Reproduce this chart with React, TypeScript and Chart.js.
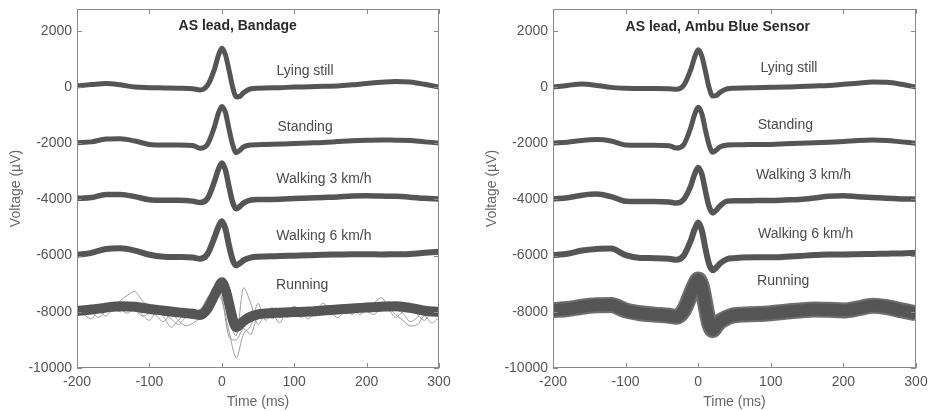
import React, { useEffect, useRef } from "react";
import { Chart, registerables } from "chart.js";

Chart.register(...registerables);

// ---- data ----
const times = [-200, -180, -160, -140, -120, -100, -80, -60, -40, -30, -20, -10, -5, 0, 5, 10, 15, 20, 25, 30, 40, 50, 60, 80, 100, 120, 140, 160, 180, 200, 220, 240, 260, 280, 300];

const bandageLying = [40, 90, 130, 80, 0, -20, -30, -40, -60, -100, 50, 650, 1100, 1380, 1150, 600, 0, -350, -330, -200, -60, -40, -30, -20, 0, 10, 30, 40, 80, 130, 170, 200, 180, 100, 0];
const bandageStanding = [-1980, -1950, -1850, -1840, -1920, -2040, -2060, -2060, -2080, -2180, -2050, -1400, -950, -690, -900, -1500, -2050, -2330, -2250, -2130, -2060, -2050, -2040, -2030, -2010, -1990, -1970, -1940, -1910, -1890, -1880, -1890, -1900, -1950, -1990];
const bandageWalk3 = [-3960, -3930, -3820, -3820, -3900, -4010, -4030, -4030, -4060, -4110, -3980, -3350, -2950, -2700, -2950, -3550, -4100, -4330, -4250, -4130, -4020, -4000, -4000, -3990, -3970, -3950, -3930, -3910, -3880, -3870, -3880, -3890, -3920, -3960, -3980];
const bandageWalk6 = [-5970, -5900, -5760, -5740, -5820, -5970, -6040, -6050, -6070, -6110, -5950, -5350, -5000, -4780, -5050, -5650, -6150, -6350, -6270, -6170, -6070, -6040, -6030, -6010, -6000, -5990, -5970, -5960, -5950, -5950, -5960, -5950, -5940, -5900, -5860];
const bandageRunning = [-7970, -7920, -7850, -7800, -7820, -7900, -7960, -8020, -8070, -8110, -7900, -7400, -7150, -6950, -7200, -7700, -8250, -8550, -8450, -8330, -8170, -8090, -8060, -8030, -8010, -7990, -7950, -7920, -7880, -7850, -7820, -7800, -7860, -7960, -8000];

const ambuLying = [0, 60, 110, 60, -10, -40, -50, -50, -60, -80, 60, 640, 1060, 1330, 1100, 560, -20, -320, -300, -190, -60, -40, -30, -20, -10, 0, 20, 40, 60, 100, 140, 180, 170, 100, 0];
const ambuStanding = [-1990, -1960, -1900, -1870, -1920, -2060, -2070, -2070, -2090, -2170, -2050, -1420, -980, -720, -950, -1530, -2060, -2320, -2240, -2130, -2060, -2050, -2050, -2040, -2040, -2020, -2000, -1980, -1960, -1940, -1900, -1880, -1900, -1950, -2000];
const ambuWalk3 = [-3980, -3940, -3850, -3810, -3900, -4060, -4070, -4070, -4090, -4130, -4000, -3500, -3100, -2860, -3100, -3700, -4250, -4480, -4380, -4230, -4060, -4050, -4050, -4040, -4040, -4020, -4000, -3950, -3890, -3870, -3900, -3930, -3960, -3980, -3990];
const ambuWalk6 = [-5980, -5930, -5820, -5760, -5750, -5980, -6080, -6090, -6110, -6150, -6000, -5450, -5070, -4820, -5100, -5750, -6300, -6520, -6420, -6280, -6120, -6090, -6070, -6060, -6060, -6040, -6010, -5980, -5960, -5960, -5950, -5940, -5930, -5920, -5900];
const ambuRunning = [-7940, -7900, -7820, -7770, -7760, -7950, -8050, -8100, -8140, -8180, -7950, -7350, -7050, -6850, -7100, -7750, -8400, -8650, -8500, -8350, -8200, -8120, -8100, -8080, -8050, -8000, -7950, -7920, -7930, -7950, -7880, -7780, -7830, -7950, -8050];

// thin single-beat traces visible in the Bandage "Running" bundle
const noiseTimes = [-200, -190, -180, -170, -160, -150, -140, -130, -120, -110, -100, -90, -80, -70, -60, -50, -40, -30, -20, -10, 0, 10, 20, 30, 40, 50, 60, 70, 80, 90, 100, 110, 120, 130, 140, 150, 160, 170, 180, 190, 200, 210, 220, 230, 240, 250, 260, 270, 280, 290, 300];
const runNoiseA = [-7900, -8100, -8250, -7900, -7750, -7800, -7600, -7400, -7280, -7600, -7850, -8150, -8350, -8050, -8300, -8500, -8400, -8200, -7700, -7300, -7600, -8700, -9650, -8800, -8500, -7700, -8300, -8100, -8400, -7900, -8000, -8200, -7900, -8150, -7850, -8000, -8200, -7950, -7800, -8100, -7900, -7700, -7500, -7800, -8100, -8300, -8500, -8450, -8150, -8400, -8200];
const runNoiseB = [-8050, -7850, -8000, -8200, -7950, -7700, -7900, -8050, -7850, -8100, -8300, -8000, -8200, -8550, -8300, -8100, -8250, -8000, -7500, -7250, -7200, -8300, -8850, -7150, -7700, -8450, -8050, -7850, -8200, -8050, -7800, -8050, -8250, -7900, -8100, -7850, -8000, -7800, -8100, -7750, -7950, -8100, -7850, -7650, -7900, -8050, -8350, -8200, -7900, -8150, -8050];
const runNoiseC = [-7950, -8000, -7800, -7950, -8150, -7900, -8000, -7750, -7900, -8150, -8050, -7800, -8050, -8250, -8450, -8200, -8050, -7900, -7650, -7100, -7500, -8900, -9000, -8600, -8800, -8100, -8000, -8250, -8000, -8200, -7950, -7850, -8100, -7950, -7700, -7950, -7850, -8050, -7900, -7700, -7850, -7950, -7700, -7900, -8200, -8000, -7850, -8100, -8300, -8000, -7850];

const conditionNames = ["Lying still", "Standing", "Walking 3 km/h", "Walking 6 km/h", "Running"];
const bandageLabelX = [115, 115, 141, 141, 111];
const bandageLabelY = [570, -1410, -3280, -5290, -7060];
const ambuLabelX = [125, 120, 145, 148, 117];
const ambuLabelY = [670, -1360, -3130, -5245, -6915];

const xTicks = [-200, -100, 0, 100, 200, 300];
const yTicks = [-10000, -8000, -6000, -4000, -2000, 0, 2000];

const FONT = "'Liberation Sans', Arial, Helvetica, sans-serif";

const framePlugin = {
  id: "frame",
  afterDraw(chart: any, _args: any, opts: any) {
    const { ctx, chartArea: a, scales } = chart;
    ctx.save();
    ctx.strokeStyle = "#8a8a8a";
    ctx.lineWidth = 1;
    ctx.strokeRect(a.left + 0.5, a.top + 0.5, a.right - a.left - 1, a.bottom - a.top - 1);
    const tl = 5;
    ctx.beginPath();
    for (const v of xTicks) {
      const px = Math.round(scales.x.getPixelForValue(v)) + 0.5;
      ctx.moveTo(px, a.bottom);
      ctx.lineTo(px, a.bottom - tl);
      ctx.moveTo(px, a.top);
      ctx.lineTo(px, a.top + tl);
    }
    for (const v of yTicks) {
      const py = Math.round(scales.y.getPixelForValue(v)) + 0.5;
      ctx.moveTo(a.left, py);
      ctx.lineTo(a.left + tl, py);
      ctx.moveTo(a.right, py);
      ctx.lineTo(a.right - tl, py);
    }
    ctx.stroke();

    // annotations
    ctx.fillStyle = "#4a4a4a";
    ctx.textAlign = "center";
    ctx.textBaseline = "middle";
    ctx.font = `14px ${FONT}`;
    opts.names.forEach((n: string, i: number) => {
      ctx.fillText(n, scales.x.getPixelForValue(opts.lx[i]), scales.y.getPixelForValue(opts.ly[i]));
    });
    ctx.fillStyle = "#2a2a2a";
    ctx.font = `bold 14px ${FONT}`;
    ctx.fillText(opts.title, scales.x.getPixelForValue(opts.tx), scales.y.getPixelForValue(opts.ty));
    ctx.restore();
  },
};

function pts(xs: number[], ys: number[]) {
  return xs.map((x, i) => ({ x, y: ys[i] }));
}

function makeConfig(p: any) {
  const main = (ys: number[], w: number) => ({
    data: pts(times, ys),
    borderColor: "#555555",
    borderWidth: w,
    pointRadius: 0,
    cubicInterpolationMode: "monotone",
  });
  const thin = (ys: number[]) => ({
    data: pts(noiseTimes, ys),
    borderColor: "#9a9a9a",
    borderWidth: 1,
    pointRadius: 0,
    tension: 0.3,
  });
  const datasets: any[] = [
    main(p.series[0], 5),
    main(p.series[1], 5),
    main(p.series[2], 5.5),
    main(p.series[3], 6),
    main(p.series[4], p.runWidth),
  ];
  if (p.runHalo) {
    datasets.push({
      data: pts(times, p.series[4]),
      borderColor: "#6e6e6e",
      borderWidth: p.runWidth + 4,
      pointRadius: 0,
      cubicInterpolationMode: "monotone",
    });
  }
  (p.noise || []).forEach((n: number[]) => datasets.push(thin(n)));
  return {
    type: "line",
    data: { datasets },
    options: {
      animation: false,
      responsive: false,
      maintainAspectRatio: false,
      layout: { padding: { top: 9, right: p.padRight, left: 8, bottom: 0 } },
      plugins: {
        legend: { display: false },
        tooltip: { enabled: false },
        frame: { names: conditionNames, lx: p.lx, ly: p.ly, title: p.title, tx: p.tx, ty: p.ty },
      },
      scales: {
        x: {
          type: "linear",
          min: -200,
          max: 300,
          afterBuildTicks: (s: any) => { s.ticks = xTicks.map((v) => ({ value: v })); },
          afterFit: (s: any) => { s.height = 43; s.paddingLeft = 0; s.paddingRight = 0; },
          grid: { display: false, drawTicks: false },
          border: { display: false },
          ticks: { color: "#555", font: { family: FONT, size: 14 }, padding: 6, maxRotation: 0, callback: (v: any) => String(v) },
          title: { display: true, text: "Time (ms)", color: "#666", font: { family: FONT, size: 14 }, padding: { top: 0, bottom: 0 } },
        },
        y: {
          type: "linear",
          min: -10000,
          max: 2780,
          afterBuildTicks: (s: any) => { s.ticks = yTicks.map((v) => ({ value: v })); },
          afterFit: (s: any) => { s.width = 69; s.paddingTop = 0; s.paddingBottom = 0; },
          grid: { display: false, drawTicks: false },
          border: { display: false },
          ticks: { color: "#555", font: { family: FONT, size: 14 }, padding: 5, callback: (v: any) => String(v) },
          title: { display: true, text: "Voltage (µV)", color: "#666", font: { family: FONT, size: 14 }, padding: { top: 0, bottom: 0 } },
        },
      },
    },
    plugins: [framePlugin],
  };
}

function Panel(props: { cfg: any; width: number; left: number }) {
  const ref = useRef<HTMLCanvasElement>(null);
  useEffect(() => {
    const chart = new Chart(ref.current as HTMLCanvasElement, makeConfig(props.cfg) as any);
    return () => chart.destroy();
  }, []);
  return (
    <div style={{ position: "absolute", left: props.left, top: 0, width: props.width, height: 411 }}>
      <canvas ref={ref} width={props.width} height={411} style={{ width: props.width, height: 411, display: "block" }} />
    </div>
  );
}

export default function App() {
  const left = {
    series: [bandageLying, bandageStanding, bandageWalk3, bandageWalk6, bandageRunning],
    noise: [runNoiseA, runNoiseB, runNoiseC],
    runWidth: 10,
    runHalo: false,
    lx: bandageLabelX,
    ly: bandageLabelY,
    title: "AS lead, Bandage",
    tx: 22,
    ty: 2160,
    padRight: 37,
  };
  const right = {
    series: [ambuLying, ambuStanding, ambuWalk3, ambuWalk6, ambuRunning],
    noise: [],
    runWidth: 12,
    runHalo: true,
    lx: ambuLabelX,
    ly: ambuLabelY,
    title: "AS lead, Ambu Blue Sensor",
    tx: 27,
    ty: 2140,
    padRight: 14,
  };
  return (
    <div style={{ position: "fixed", left: 0, top: 0, width: 930, height: 411, background: "#fff" }}>
      <Panel cfg={left} width={476} left={0} />
      <Panel cfg={right} width={454} left={476} />
    </div>
  );
}
